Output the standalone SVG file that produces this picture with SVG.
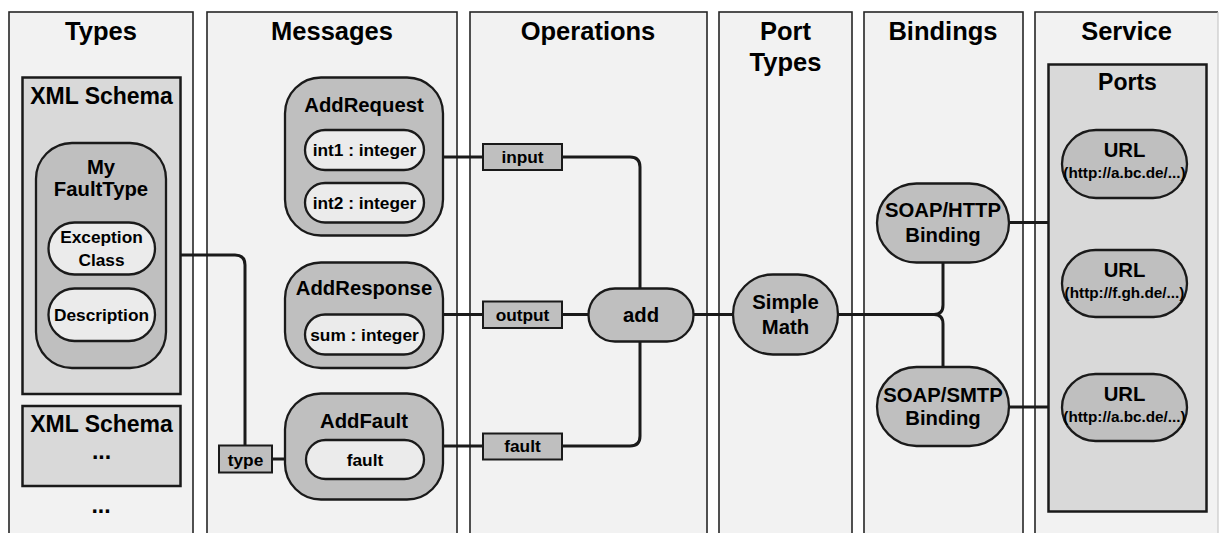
<svg xmlns="http://www.w3.org/2000/svg" width="1219" height="533" viewBox="0 0 1219 533">
<style>
text{font-family:"Liberation Sans",Arial,sans-serif;font-weight:bold;fill:#000;text-anchor:middle}
.col{fill:#f2f2f2;stroke:#262626;stroke-width:1.6}
.box{fill:#d9d9d9;stroke:#1a1a1a;stroke-width:2.5}
.node{fill:#bfbfbf;stroke:#1a1a1a;stroke-width:2.3}
.pill{fill:#ebebeb;stroke:#1a1a1a;stroke-width:2.3}
.lbl{fill:#bfbfbf;stroke:#1a1a1a;stroke-width:2}
.h{font-size:25.5px}
.s{font-size:23px}
.t{font-size:20.3px}
.m{font-size:17.3px}
.u{font-size:15.3px}
.c{fill:none;stroke:#1a1a1a;stroke-width:3}
</style>
<rect width="1219" height="533" fill="#ffffff"/>
<g id="col-types"><rect class="col" x="9" y="12" width="184" height="560"/><text class="h" x="101" y="40">Types</text></g>
<g id="col-messages"><rect class="col" x="207" y="12" width="250" height="560"/><text class="h" x="332" y="40">Messages</text></g>
<g id="col-operations"><rect class="col" x="470" y="12" width="237" height="560"/><text class="h" x="588" y="40">Operations</text></g>
<g id="col-porttypes"><rect class="col" x="719" y="12" width="133" height="560"/><text class="h" x="785.5" y="40">Port</text><text class="h" x="785.5" y="71">Types</text></g>
<g id="col-bindings"><rect class="col" x="864" y="12" width="159" height="560"/><text class="h" x="943" y="40">Bindings</text></g>
<g id="col-service"><rect x="1035" y="12" width="183" height="560" fill="#f2f2f2"/><path d="M1035,572 V12 H1218" fill="none" stroke="#262626" stroke-width="1.6"/><path d="M1218,12 V533" stroke="#c8c8c8" stroke-width="1.2"/><text class="h" x="1126.5" y="40">Service</text></g>

<g id="connectors">
<path class="c" d="M166,255 H235 Q245,255 245,265 V445"/>
<path class="c" d="M272,459 H306"/>
<path class="c" d="M443,157 H483"/>
<path class="c" d="M562,157 H630 Q640,157 640,167 V288"/>
<path class="c" d="M443,314.5 H483"/>
<path class="c" d="M562,314.5 H588"/>
<path class="c" d="M443,446 H483"/>
<path class="c" d="M562,446 H630 Q640,446 640,436 V341"/>
<path class="c" d="M693,314.5 H733"/>
<path class="c" d="M838,314.5 H934"/>
<path class="c" d="M943,262 V305 Q943,314.5 934,314.5 Q943,314.5 943,324 V367"/>
<path class="c" d="M1009,222.5 H1118"/>
<path class="c" d="M1127.5,198 V213 Q1127.5,222.5 1118,222.5 Q1127.5,222.5 1127.5,232 V250"/>
<path class="c" d="M1009,407 H1062"/>
</g>

<g id="xmlschema1"><rect class="box" x="22.5" y="77.5" width="158" height="316.5"/><text class="s" x="101.5" y="104">XML Schema</text></g>
<g id="myfaulttype"><rect class="node" x="36" y="143" width="130" height="225" rx="36"/><text class="t" x="101" y="173.5">My</text><text class="t" x="101" y="196">FaultType</text></g>
<g id="exceptionclass"><rect class="pill" x="48.5" y="222.5" width="106.5" height="52" rx="26"/><text class="m" x="101.5" y="243">Exception</text><text class="m" x="101.5" y="266">Class</text></g>
<g id="description"><rect class="pill" x="48.5" y="288.5" width="106.5" height="52.5" rx="26"/><text class="m" x="101.5" y="320.5">Description</text></g>
<g id="xmlschema2"><rect class="box" x="22.5" y="406" width="158" height="80"/><text class="s" x="101.5" y="432">XML Schema</text><text class="s" x="101.5" y="459">...</text></g>
<g id="more-types"><text class="s" x="101" y="513">...</text></g>

<g id="addrequest"><rect class="node" x="285" y="77.5" width="158" height="158" rx="36"/><text class="t" x="364" y="112">AddRequest</text></g>
<g id="int1"><rect class="pill" x="305" y="130" width="119" height="40" rx="20"/><text class="m" x="364.5" y="156">int1 : integer</text></g>
<g id="int2"><rect class="pill" x="305" y="183" width="119" height="39.5" rx="20"/><text class="m" x="364.5" y="209">int2 : integer</text></g>
<g id="addresponse"><rect class="node" x="285" y="262.5" width="158" height="105.5" rx="36"/><text class="t" x="364" y="295">AddResponse</text></g>
<g id="sum"><rect class="pill" x="305" y="314.5" width="119" height="40" rx="20"/><text class="m" x="364.5" y="341">sum : integer</text></g>
<g id="addfault"><rect class="node" x="285" y="393.5" width="158" height="106" rx="36"/><text class="t" x="364" y="428">AddFault</text></g>
<g id="fault-part"><rect class="pill" x="306" y="440" width="118" height="39" rx="19.5"/><text class="m" x="365" y="465.5">fault</text></g>
<g id="type"><rect class="lbl" x="219" y="445.5" width="53" height="27"/><text class="m" x="245.5" y="465.5">type</text></g>

<g id="input"><rect class="lbl" x="483" y="144" width="79" height="26"/><text class="m" x="522.5" y="163">input</text></g>
<g id="output"><rect class="lbl" x="483" y="301.5" width="79" height="26.5"/><text class="m" x="522.5" y="320.5">output</text></g>
<g id="fault-op"><rect class="lbl" x="483" y="433.5" width="79" height="26"/><text class="m" x="522.5" y="452">fault</text></g>
<g id="add"><rect class="node" x="588.5" y="288.5" width="105" height="53" rx="26.5"/><text class="t" x="641" y="321.5">add</text></g>

<g id="simplemath"><rect class="node" x="733" y="274.5" width="105" height="80" rx="40"/><text class="t" x="785.5" y="309">Simple</text><text class="t" x="785.5" y="333.5">Math</text></g>

<g id="soaphttp"><rect class="node" x="877" y="183.5" width="132" height="79" rx="39.5"/><text class="t" x="943" y="217">SOAP/HTTP</text><text class="t" x="943" y="241.5">Binding</text></g>
<g id="soapsmtp"><rect class="node" x="877" y="367" width="132" height="79" rx="39.5"/><text class="t" x="943" y="401.5">SOAP/SMTP</text><text class="t" x="943" y="425">Binding</text></g>

<g id="ports"><rect class="box" x="1048.5" y="64.5" width="158" height="447"/><text class="s" x="1127.5" y="89.5">Ports</text></g>
<g id="url1"><rect class="node" x="1062" y="130" width="125" height="68" rx="34"/><text class="t" x="1124.5" y="157">URL</text><text class="u" x="1124.5" y="178">(http://a.bc.de/...)</text></g>
<g id="url2"><rect class="node" x="1062" y="250" width="125" height="67" rx="33.5"/><text class="t" x="1124.5" y="276.5">URL</text><text class="u" x="1124.5" y="297.5">(http://f.gh.de/...)</text></g>
<g id="url3"><rect class="node" x="1062" y="374" width="125" height="67" rx="33.5"/><text class="t" x="1124.5" y="400.5">URL</text><text class="u" x="1124.5" y="421.5">(http://a.bc.de/...)</text></g>
</svg>
